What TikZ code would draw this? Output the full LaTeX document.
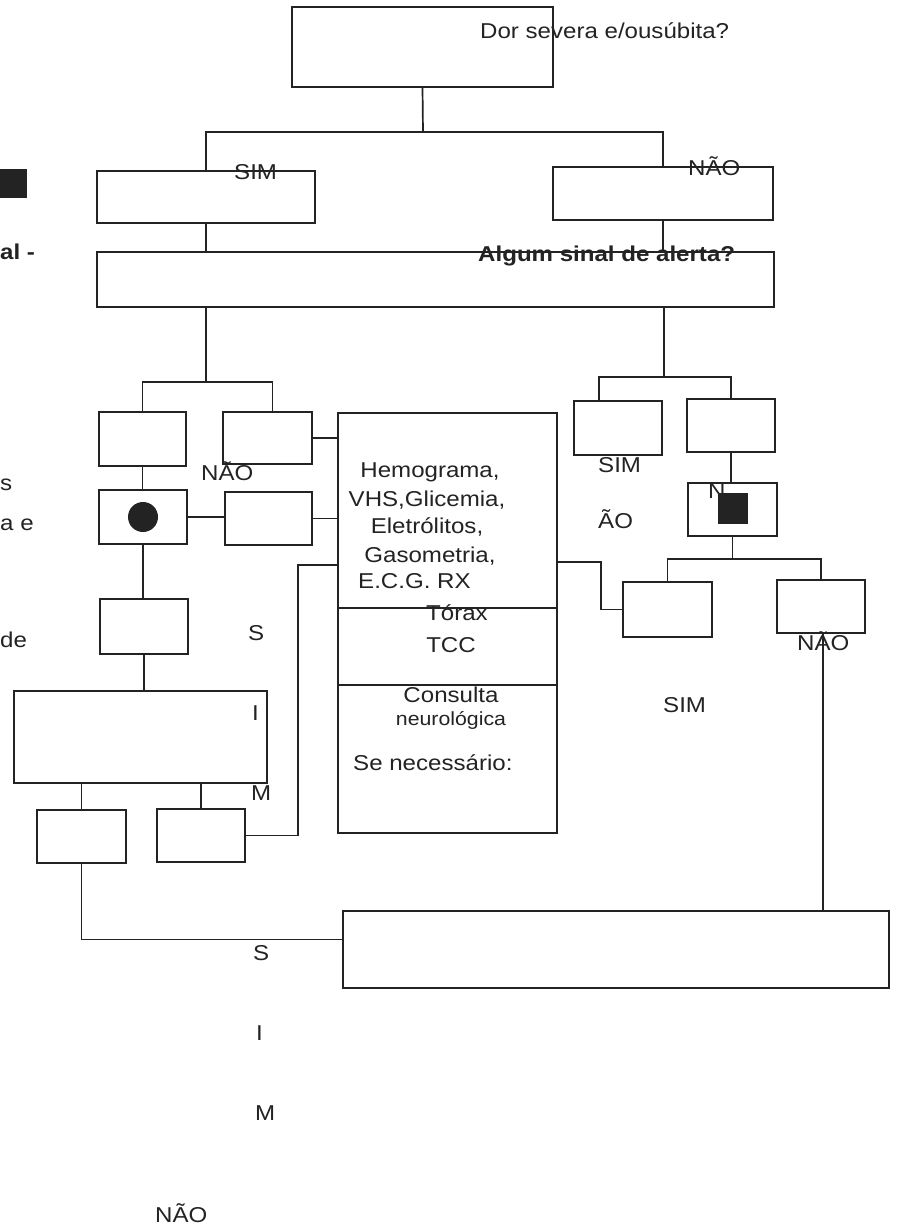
\documentclass[tikz,border=0pt]{standalone}
\usepackage{fontspec}
\setmainfont[FakeStretch=1.12]{Liberation Sans}
\usepackage{xcolor}
\definecolor{ink}{RGB}{35,35,35}
\tikzset{
  box/.style={draw=ink, line width=1.7pt, rectangle, inner sep=0pt},
  link/.style={draw=ink, line width=1.7pt},
  lbl/.style={anchor=base west, inner sep=0pt, text=ink, font=\fontsize{21.5}{26}\selectfont},
  mid/.style={lbl, anchor=base},
}

\begin{document}
\begin{tikzpicture}[x=1pt, y=-1pt]
        \fill[white] (0,0) rectangle (898,1230);
        \useasboundingbox (0,0) rectangle (898,1230);

        % caixas
        \node[box, minimum width=261pt, minimum height=80pt] (top)    at (422.5,47)  {};
        \node[box, minimum width=218pt, minimum height=52pt] (sim)    at (206,197)   {};
        \node[box, minimum width=220pt, minimum height=53pt] (nao)    at (663,193.5) {};
        \node[box, minimum width=677pt, minimum height=55pt] (alerta) at (435.5,279.5) {};
        \node[box, minimum width=87pt,  minimum height=54pt] (la1)    at (142.5,439) {};
        \node[box, minimum width=89pt,  minimum height=52pt] (lb1)    at (267.5,438) {};
        \node[box, minimum width=88pt,  minimum height=54pt] (la2)    at (143,517)   {};
        \node[box, minimum width=87pt,  minimum height=53pt] (lb2)    at (268.5,518.5) {};
        \node[box, minimum width=88pt,  minimum height=55pt] (la3)    at (144,626.5) {};
        \node[box, minimum width=253pt, minimum height=92pt] (l4)     at (140.5,737) {};
        \node[box, minimum width=89pt,  minimum height=53pt] (l5a)    at (81.5,836.5) {};
        \node[box, minimum width=88pt,  minimum height=53pt] (l5b)    at (201,835.5) {};
        \node[box, minimum width=219pt, minimum height=420pt] (exam)  at (447.5,623) {};
        \node[box, minimum width=88pt,  minimum height=54pt] (ra1)    at (618,428)   {};
        \node[box, minimum width=88pt,  minimum height=53pt] (rb1)    at (731,425.5) {};
        \node[box, minimum width=89pt,  minimum height=53pt] (rb2)    at (732.5,509.5) {};
        \node[box, minimum width=89pt,  minimum height=55pt] (ra3)    at (667.5,609.5) {};
        \node[box, minimum width=88pt,  minimum height=53pt] (rc3)    at (821,606.5) {};
        \node[box, minimum width=546pt, minimum height=77pt] (fim)    at (616,949.5) {};

        \draw[link] ([yshift=-196pt]exam.north west) -- ([yshift=-196pt]exam.north east);
        \draw[link] ([yshift=-273pt]exam.north west) -- ([yshift=-273pt]exam.north east);

        \fill[ink] (la2.center) circle (15pt);
        \fill[ink] (718,493) rectangle (748,524);
        \fill[ink] (0,169) rectangle (27,198);

        % ligacoes
        \coordinate (s0) at (423,132);
        \draw[link] (top.south) -- (s0);
        \draw[link] (sim.north) |- (s0) -| (nao.north);
        \draw[link] (sim.south) -- (sim.south |- alerta.north);
        \draw[link] (nao.south) -- (nao.south |- alerta.north);

        \coordinate (s1) at (206,382);
        \draw[link] (alerta.south -| s1) -- (s1);
        \draw[link] (la1.north) |- (s1) -| ([xshift=5pt]lb1.north);
        \draw[link] (la1.south) -- (la1.south |- la2.north);
        \draw[link] (la2.east) -- (la2.east -| lb2.west);
        \draw[link] (lb1.east) -- (lb1.east -| exam.west);
        \draw[link] (lb2.east) -- (lb2.east -| exam.west);
        \draw[link] (la2.south) -- (la2.south |- la3.north);
        \draw[link] (la3.south) -- (la3.south |- l4.north);
        \draw[link] (l5a.north) -- (l5a.north |- l4.south);
        \draw[link] (l5b.north) -- (l5b.north |- l4.south);
        \coordinate (t1) at (298,565);
        \draw[link] (l5b.east) -| (t1) -- (t1 -| exam.west);
        \draw[link] (l5a.south) |- ([yshift=10pt]fim.west);

        \coordinate (s2) at (664,377);
        \draw[link] (alerta.south -| s2) -- (s2);
        \draw[link] ([xshift=-19pt]ra1.north) |- (s2) -| (rb1.north);
        \draw[link] (rb1.south) -- (rb1.south |- rb2.north);
        \coordinate (s3) at (733,559);
        \draw[link] (rb2.south) -- (rb2.south |- s3);
        \draw[link] (ra3.north) |- (s3) -| (rc3.north);
        \coordinate (t2) at (601,562);
        \draw[link] (t2 -| exam.east) -- (t2) |- (ra3.west);
        \draw[link] ([xshift=2pt]rc3.south) -- ([xshift=2pt]rc3.south |- fim.north);

        % textos
        \node[lbl] (q1) at (480,39) {Dor severa e/ousúbita?};
        \node[lbl] (y1) at (234,180) {SIM};
        \node[lbl] (n1) at (688,176) {NÃO};
        \node[lbl, font=\fontsize{21.5}{26}\selectfont\bfseries] (q2) at (478,262) {Algum sinal de alerta?};
        \node[lbl] (n2) at (201,480) {NÃO};
        \node[lbl] (v1) at (248,640) {S};
        \node[lbl] (v2) at (252,720) {I};
        \node[lbl] (v3) at (251,800) {M};
        \node[lbl] (v4) at (253,960) {S};
        \node[lbl] (v5) at (256,1040) {I};
        \node[lbl] (v6) at (255,1120) {M};
        \node[lbl] (n3) at (155,1222) {NÃO};

        \node[mid] (e1) at (430,477) {Hemograma,};
        \node[mid] (e2) at (427,506) {VHS,Glicemia,};
        \node[mid] (e3) at (427,533) {Eletrólitos,};
        \node[mid] (e4) at (430,562) {Gasometria,};
        \node[lbl] (e5) at (358,588) {E.C.G. RX};
        \node[mid] (e6) at (457,620) {Tórax};
        \node[mid] (e7) at (451,652) {TCC};
        \node[mid] (e8) at (451,702) {Consulta};
        \node[mid, font=\fontsize{19}{23}\selectfont] (e9) at (451,725) {neurológica};
        \node[lbl] (e10) at (353,770) {Se necessário:};

        \node[lbl] (y2) at (598,472) {SIM};
        \node[lbl] (n4) at (598,528) {ÃO};
        \node[lbl] (n5) at (708,498) {N};
        \node[lbl] (n6) at (797,650) {NÃO};
        \node[lbl] (y3) at (663,712) {SIM};

        \node[lbl, font=\fontsize{21.5}{26}\selectfont\bfseries] (c1) at (0,260) {al -};
        \node[lbl] (c2) at (0,490) {s};
        \node[lbl] (c3) at (0,530) {a e};
        \node[lbl] (c4) at (0,647) {de};
    \end{tikzpicture}
\end{document}
